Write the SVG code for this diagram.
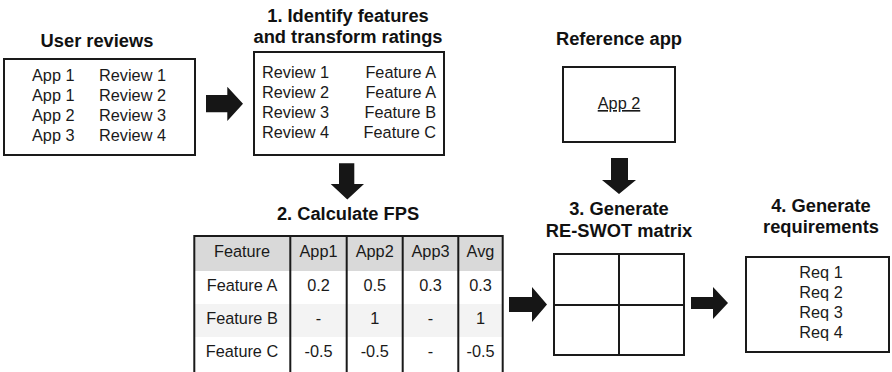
<svg xmlns="http://www.w3.org/2000/svg" width="892" height="372" viewBox="0 0 892 372">
<style>
.box{fill:#fff;stroke:#1a1a1a;stroke-width:2}
.t{font-family:"Liberation Sans",Arial,sans-serif;font-size:16.3px;fill:#1a1a1a}
.h{font-family:"Liberation Sans",Arial,sans-serif;font-size:18.3px;font-weight:bold;fill:#111;text-anchor:middle}
.c{text-anchor:middle}
.arr{fill:#161616}
.grid{stroke:#1a1a1a;stroke-width:2;fill:none}
</style>
<rect width="892" height="372" fill="#fff"/>

<g id="user-reviews">
<text class="h" x="97" y="47">User reviews</text>
<rect class="box" x="4" y="59" width="191" height="96"/>
<text class="t" x="32" y="81">App 1</text><text class="t" x="99" y="81">Review 1</text>
<text class="t" x="32" y="101">App 1</text><text class="t" x="99" y="101">Review 2</text>
<text class="t" x="32" y="121">App 2</text><text class="t" x="99" y="121">Review 3</text>
<text class="t" x="32" y="141">App 3</text><text class="t" x="99" y="141">Review 4</text>
</g>

<g id="identify-features">
<text class="h" x="348" y="22">1. Identify features</text>
<text class="h" x="348" y="43">and transform ratings</text>
<rect class="box" x="254" y="52" width="190" height="103"/>
<text class="t" x="262" y="78">Review 1</text><text class="t" x="436" y="78" text-anchor="end">Feature A</text>
<text class="t" x="262" y="98">Review 2</text><text class="t" x="436" y="98" text-anchor="end">Feature A</text>
<text class="t" x="262" y="118">Review 3</text><text class="t" x="436" y="118" text-anchor="end">Feature B</text>
<text class="t" x="262" y="138">Review 4</text><text class="t" x="436" y="138" text-anchor="end">Feature C</text>
</g>

<g id="calculate-fps">
<text class="h" x="348" y="220">2. Calculate FPS</text>
<rect x="194" y="236" width="309" height="35" fill="#d9d9d9"/>
<rect x="194" y="271" width="309" height="33" fill="#fff"/>
<rect x="194" y="304" width="309" height="33" fill="#f3f3f3"/>
<rect x="194" y="337" width="309" height="35" fill="#fff"/>
<path class="grid" d="M194.3 372V236H502.7V372M290.3 236V372M346.7 236V372M402.7 236V372M458.3 236V372"/>
<g class="t c">
<text x="242" y="257">Feature</text><text x="318.5" y="257">App1</text><text x="374.7" y="257">App2</text><text x="430.5" y="257">App3</text><text x="480.5" y="257">Avg</text>
<text x="242" y="291">Feature A</text><text x="318.5" y="291">0.2</text><text x="374.7" y="291">0.5</text><text x="430.5" y="291">0.3</text><text x="480.5" y="291">0.3</text>
<text x="242" y="324">Feature B</text><text x="318.5" y="324">-</text><text x="374.7" y="324">1</text><text x="430.5" y="324">-</text><text x="480.5" y="324">1</text>
<text x="242" y="357">Feature C</text><text x="318.5" y="357">-0.5</text><text x="374.7" y="357">-0.5</text><text x="430.5" y="357">-</text><text x="480.5" y="357">-0.5</text>
</g>
</g>

<g id="reference-app">
<text class="h" x="619" y="45">Reference app</text>
<rect class="box" x="563" y="67" width="112" height="75"/>
<text class="t c" x="619" y="109" text-decoration="underline">App 2</text>
</g>

<g id="re-swot">
<text class="h" x="619" y="215">3. Generate</text>
<text class="h" x="619" y="237">RE-SWOT matrix</text>
<rect class="box" x="554" y="254" width="130" height="101"/>
<path class="grid" d="M619 254V355M554 305H684"/>
</g>

<g id="requirements">
<text class="h" x="821" y="212">4. Generate</text>
<text class="h" x="821" y="233">requirements</text>
<rect class="box" x="746" y="257" width="143" height="95"/>
<text class="t c" x="821" y="278">Req 1</text>
<text class="t c" x="821" y="298">Req 2</text>
<text class="t c" x="821" y="318">Req 3</text>
<text class="t c" x="821" y="338">Req 4</text>
</g>

<g id="connectors">
<polygon class="arr" points="206,95 227.3,95 227.3,86.7 243,103.8 227.3,121 227.3,112.3 206,112.3"/>
<polygon class="arr" points="339,163.3 354.3,163.3 354.3,184 364,184 347.3,199.5 330.7,184 339,184"/>
<polygon class="arr" points="611,158 628,158 628,180 636,180 619,194 602,180 611,180"/>
<polygon class="arr" points="509,297 532,297 532,287 547,304.5 532,322 532,312 509,312"/>
<polygon class="arr" points="691,297 713,297 713,287 728,303 713,319 713,309 691,309"/>
</g>
</svg>
